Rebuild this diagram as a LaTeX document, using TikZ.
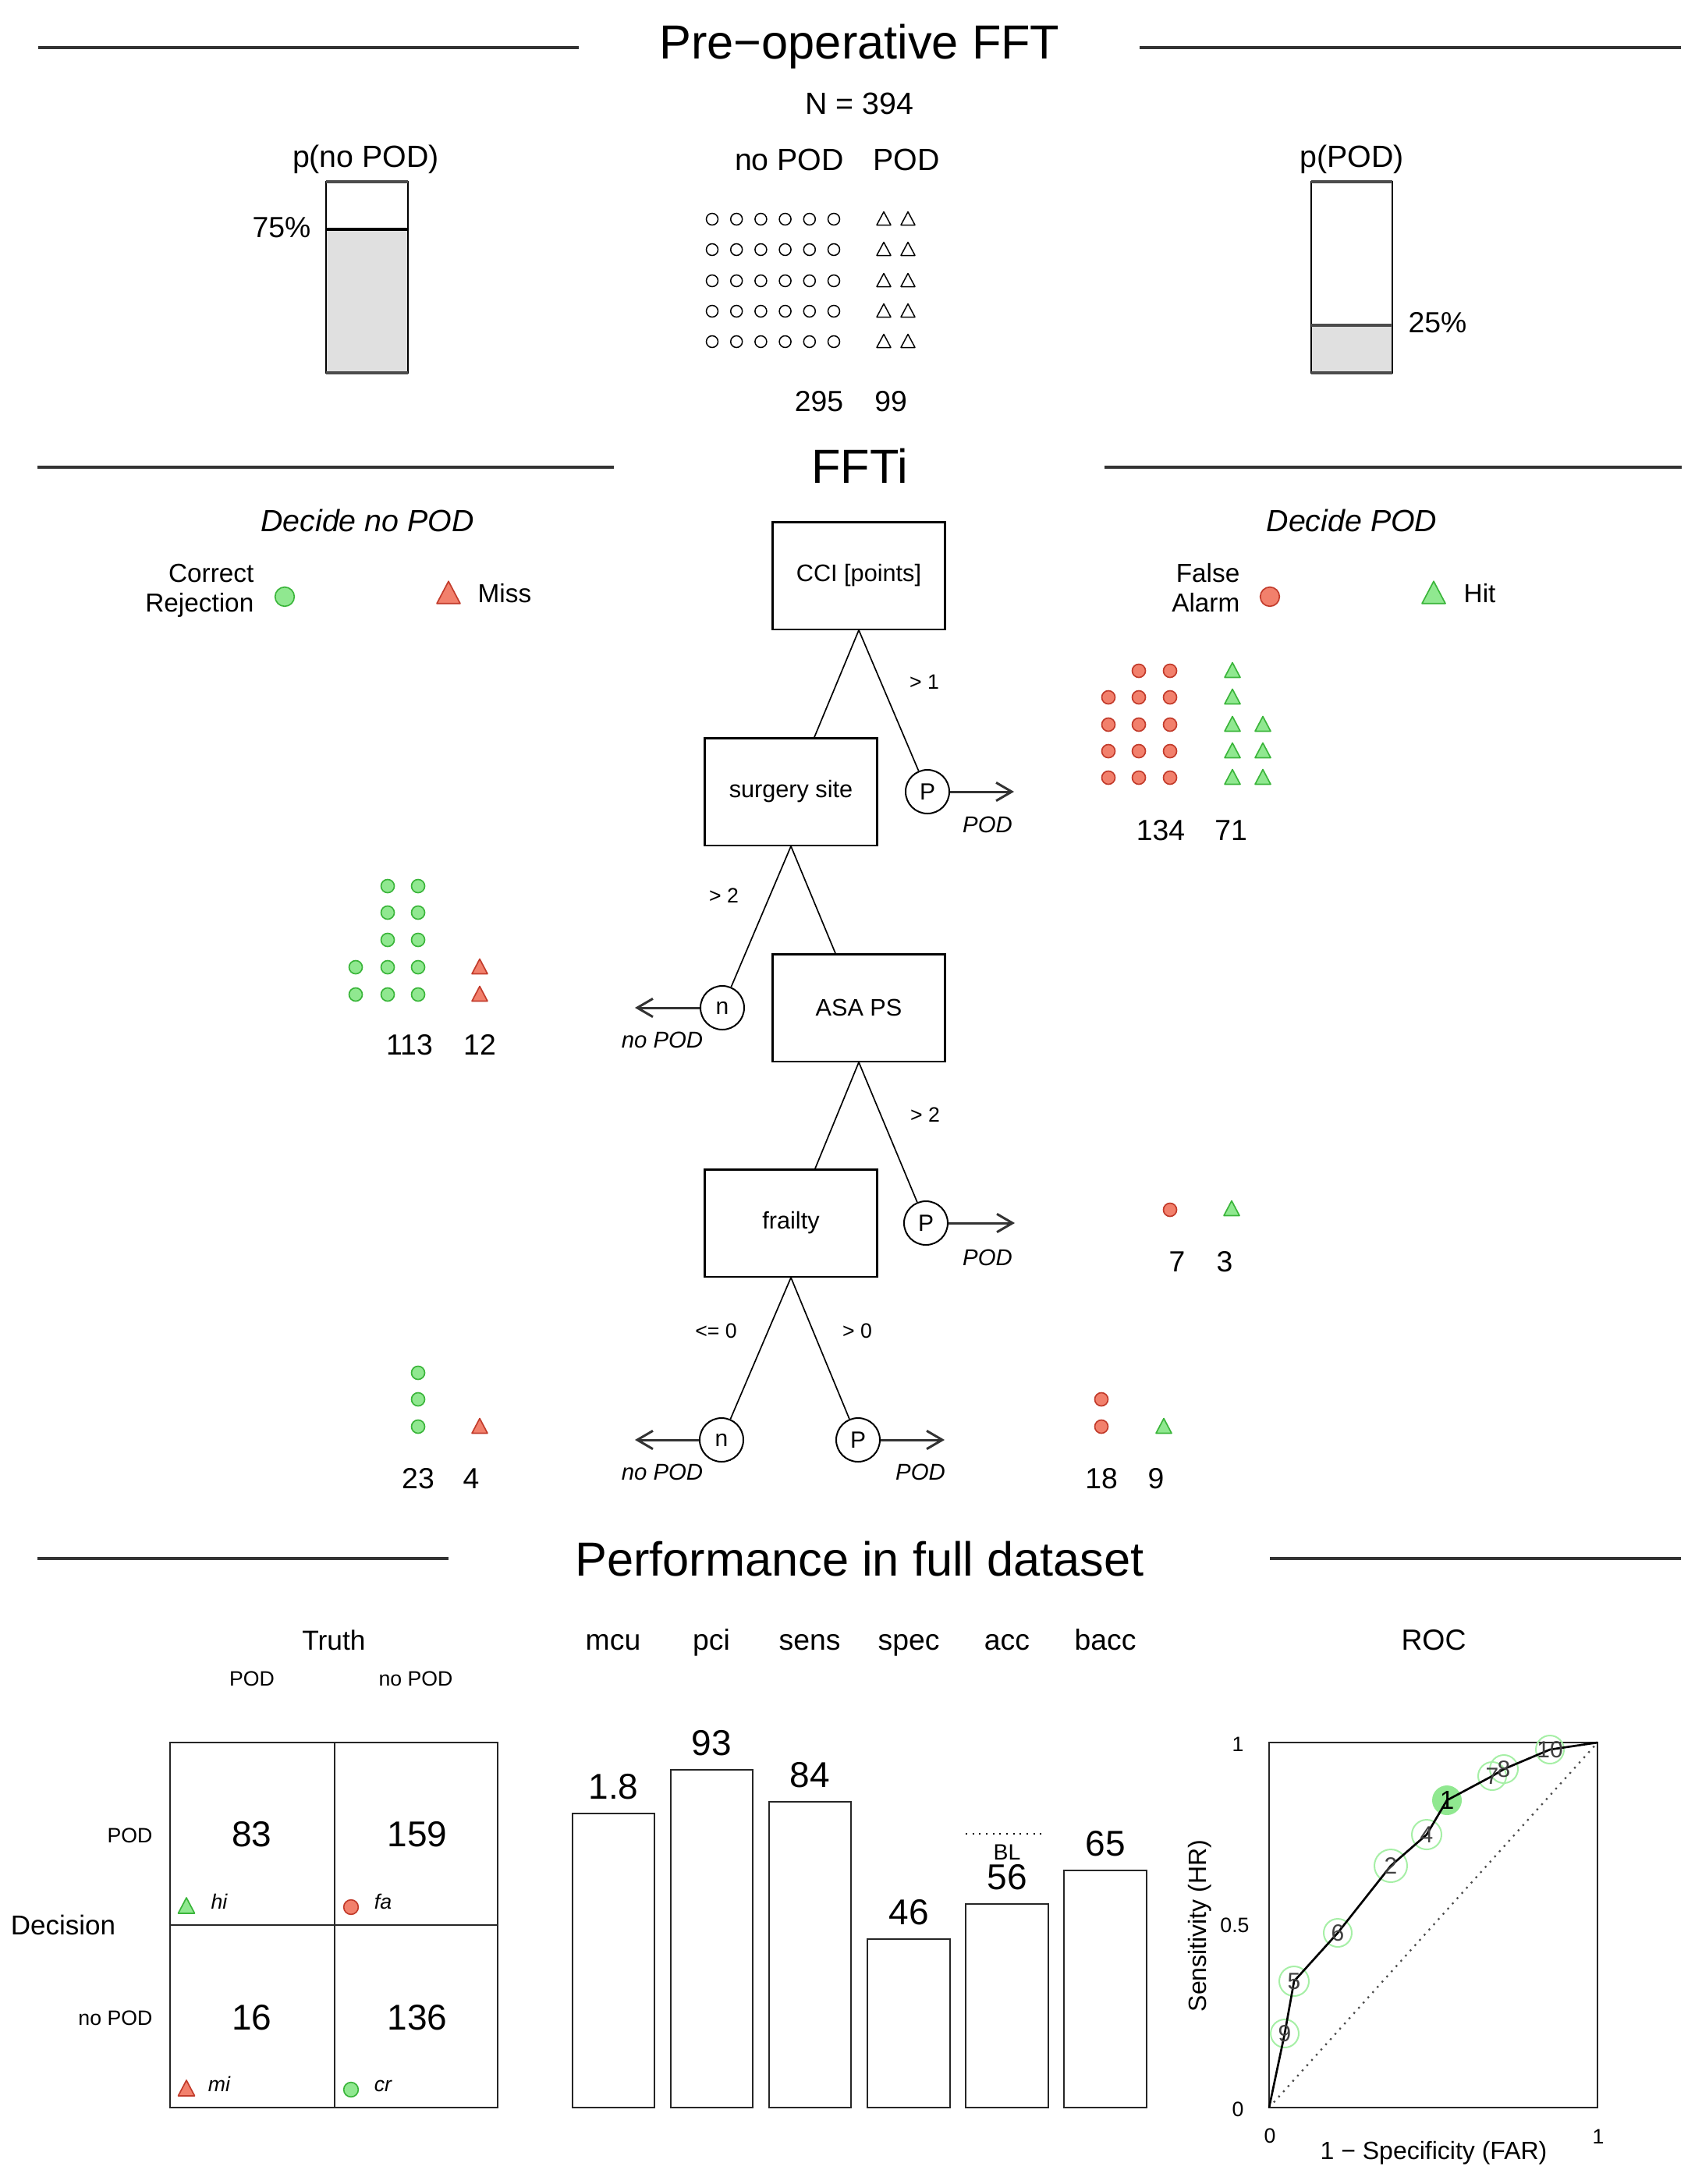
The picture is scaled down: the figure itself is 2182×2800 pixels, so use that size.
\documentclass[tikz,border=0pt]{standalone}
\usepackage{fontspec}
\setmainfont{Liberation Sans}
\usetikzlibrary{arrows.meta,calc}
\definecolor{redfill}{HTML}{F2806C}
\definecolor{redline}{HTML}{C23B2B}
\definecolor{greenfill}{HTML}{90E890}
\definecolor{greenline}{HTML}{3AB53A}
\definecolor{rocring}{HTML}{A6EFA6}
\definecolor{barfill}{HTML}{E0E0E0}
\definecolor{sepgray}{HTML}{333333}
\newcommand\myfs[1]{\fontsize{#1}{#1}\selectfont}
\tikzset{
  sepline/.style={line width=1pt, draw=sepgray},
  ttl/.style={font=\myfs{18.4}, anchor=base, inner sep=0pt},
  lab/.style={font=\myfs{10}, anchor=base, inner sep=0pt},
  toplab/.style={font=\myfs{11.8}, anchor=base, inner sep=0pt},
  num/.style={font=\myfs{11.2}, anchor=base, inner sep=0pt},
  bignum/.style={font=\myfs{13.8}, anchor=base, inner sep=0pt},
  small/.style={font=\myfs{8}, anchor=base, inner sep=0pt},
  exitlab/.style={font=\myfs{8.8}\itshape, anchor=base, inner sep=0pt},
  tbox/.style={draw, line width=0.7pt, minimum width=66.3pt, minimum height=41.2pt, inner sep=0pt, font=\myfs{9.2}},
  exitc/.style={draw, circle, line width=0.6pt, minimum size=16.8pt, inner sep=0pt, font=\myfs{9}},
  conn/.style={line width=0.5pt},
  exitarrow/.style={line width=0.9pt, draw=black!80, -{Straight Barb[length=6pt,width=7pt]}},
  framebox/.style={line width=0.8pt, draw=black!85},
  rocnum/.style={font=\myfs{9}, text=black!75, inner sep=0pt},
  oc/.pic={\draw[line width=0.45pt] (0,0) circle[radius=7.5];},
  ot/.pic={\draw[line width=0.45pt, line join=round] (-9,7.5) -- (9,7.5) -- (0,-9.5) -- cycle;},
  rc/.pic={\draw[draw=redline, fill=redfill, line width=0.5pt] (0,0) circle[radius=8.5];},
  gc/.pic={\draw[draw=greenline, fill=greenfill, line width=0.5pt] (0,0) circle[radius=8.5];},
  rt/.pic={\draw[draw=redline, fill=redfill, line width=0.5pt, line join=round] (-10,8.5) -- (10,8.5) -- (0,-10.5) -- cycle;},
  gt/.pic={\draw[draw=greenline, fill=greenfill, line width=0.5pt, line join=round] (-10,8.5) -- (10,8.5) -- (0,-10.5) -- cycle;}
}
\begin{document}
\begin{tikzpicture}[x=0.3pt,y=-0.3pt]
\useasboundingbox (0,0) rectangle (2182,2800);

% ---------------- Pre-operative FFT ----------------
\draw[sepline] (49,61) -- (742,61);
\draw[sepline] (1461,61) -- (2155,61);
\node[ttl] (t1) at (1102,76) {Pre−operative FFT};
\node[toplab] (nn) at (1102,146) {N = 394};
\node[toplab] (pnl) at (469,214) {p(no POD)};
\node[toplab] (ppl) at (1733,214) {p(POD)};
\node[toplab] (hnp) at (1012,218) {no POD};
\node[toplab] (hp) at (1162,218) {POD};

% left probability bar
\fill[barfill] (418,294) rectangle (523,478);
\draw[line width=0.5pt] (418,233) rectangle (523,478);
\draw[line width=1pt] (418,294) -- (523,294);
\draw[line width=1pt, draw=black!70] (418,233) -- (523,233);
\draw[line width=1pt, draw=black!70] (418,478) -- (523,478);
\node[num, anchor=base east] (p75) at (399,304) {75\%};
% right probability bar
\fill[barfill] (1681,417) rectangle (1785,478);
\draw[line width=0.5pt] (1681,233) rectangle (1785,478);
\draw[line width=1pt, draw=black!70] (1681,417) -- (1785,417);
\draw[line width=1pt, draw=black!70] (1681,233) -- (1785,233);
\draw[line width=1pt, draw=black!70] (1681,478) -- (1785,478);
\node[num, anchor=base west] (p25) at (1805,426) {25\%};

% icons
\foreach \y in {281,320,360,399,438} {
  \foreach \i in {0,...,5} { \path ({913+31.2*\i},\y) pic{oc}; }
  \path (1133,\y) pic{ot};
  \path (1164,\y) pic{ot};
}
\node[num] (c295) at (1050,527) {295};
\node[num] (c99) at (1142,527) {99};

% ---------------- FFTi ----------------
\draw[sepline] (48,599) -- (787,599);
\draw[sepline] (1416,599) -- (2156,599);
\node[ttl] (t2) at (1102,619) {FFTi};
\node[font=\myfs{11.8}\itshape, anchor=base, inner sep=0pt] (dnp) at (471,681) {Decide no POD};
\node[font=\myfs{11.8}\itshape, anchor=base, inner sep=0pt] (dp) at (1733,681) {Decide POD};

\node[lab, anchor=base east] (lc1) at (326,746) {Correct};
\node[lab, anchor=base east] (lc2) at (326,784) {Rejection};
\path (365,765) pic[scale=1.45]{gc};
\path (575,761) pic[scale=1.5]{rt};
\node[lab, anchor=base west] (lmiss) at (612,772) {Miss};
\node[lab, anchor=base east] (lf1) at (1590,746) {False};
\node[lab, anchor=base east] (lf2) at (1590,784) {Alarm};
\path (1628,765) pic[scale=1.45]{rc};
\path (1838,761) pic[scale=1.5]{gt};
\node[lab, anchor=base west] (lhit) at (1876,772) {Hit};

% tree nodes
\node[tbox] (cci) at (1101,738) {CCI [points]};
\node[tbox] (surg) at (1014,1015) {surgery site};
\node[tbox] (asa) at (1101,1292) {ASA PS};
\node[tbox] (frail) at (1014,1568) {frailty};
\node[exitc] (p1) at (1189,1015) {P};
\node[exitc] (n2) at (926,1292) {n};
\node[exitc] (p3) at (1187,1568) {P};
\node[exitc] (n4) at (925,1846) {n};
\node[exitc] (p4) at (1100,1846) {P};
\coordinate (p1e) at (1300,1015);
\coordinate (n2e) at (814,1292);
\coordinate (p3e) at (1301,1568);
\coordinate (n4e) at (814,1846);
\coordinate (p4e) at (1211,1846);

\draw[conn] (cci.south) -- ($(surg.north)+(30,0)$);
\draw[conn] (cci.south) -- (p1);
\draw[conn] (surg.south) -- (n2);
\draw[conn] (surg.south) -- ($(asa.north)+(-30,0)$);
\draw[conn] (asa.south) -- ($(frail.north)+(31,0)$);
\draw[conn] (asa.south) -- (p3);
\draw[conn] (frail.south) -- (n4);
\draw[conn] (frail.south) -- (p4);

\draw[exitarrow] (p1) -- (p1e);
\draw[exitarrow] (n2) -- (n2e);
\draw[exitarrow] (p3) -- (p3e);
\draw[exitarrow] (n4) -- (n4e);
\draw[exitarrow] (p4) -- (p4e);

\node[small] (b1) at (1185,883) {> 1};
\node[small] (b2) at (928,1157) {> 2};
\node[small] (b3) at (1186,1438) {> 2};
\node[small] (b4) at (918,1715) {<= 0};
\node[small] (b5) at (1099,1715) {> 0};

\node[exitlab] (e1) at (1266,1067) {POD};
\node[exitlab] (e2) at (849,1343) {no POD};
\node[exitlab] (e3) at (1266,1622) {POD};
\node[exitlab] (e4) at (849,1897) {no POD};
\node[exitlab] (e5) at (1180,1897) {POD};

% leaf icons: CCI > 1
\foreach \x in {1460,1500} { \path (\x,860) pic{rc}; }
\foreach \y in {894,929,963,997} { \foreach \x in {1421,1460,1500} { \path (\x,\y) pic{rc}; } }
\path (1580,860) pic{gt};
\path (1580,894) pic{gt};
\foreach \y in {929,963,997} { \foreach \x in {1580,1619} { \path (\x,\y) pic{gt}; } }
\node[num] (n134) at (1488,1077) {134};
\node[num] (n71) at (1578,1077) {71};

% surgery site -> no POD
\foreach \y in {1136,1170,1205} { \foreach \x in {497,536} { \path (\x,\y) pic{gc}; } }
\foreach \y in {1240,1275} { \foreach \x in {456,497,536} { \path (\x,\y) pic{gc}; } }
\path (615,1240) pic{rt};
\path (615,1275) pic{rt};
\node[num] (n113) at (525,1352) {113};
\node[num] (n12) at (615,1352) {12};

% ASA PS -> POD
\path (1500,1551) pic{rc};
\path (1579,1550) pic{gt};
\node[num] (n7) at (1509,1630) {7};
\node[num] (n3) at (1570,1630) {3};

% frailty <= 0 -> no POD
\foreach \y in {1760,1794,1829} { \path (536,\y) pic{gc}; }
\path (615,1829) pic{rt};
\node[num] (n23) at (536,1908) {23};
\node[num] (n4) at (604,1908) {4};

% frailty > 0 -> POD
\foreach \y in {1794,1829} { \path (1412,\y) pic{rc}; }
\path (1492,1829) pic{gt};
\node[num] (n18) at (1412,1908) {18};
\node[num] (n9) at (1482,1908) {9};

% ---------------- Performance ----------------
\draw[sepline] (48,1998) -- (575,1998);
\draw[sepline] (1628,1998) -- (2155,1998);
\node[ttl] (t3) at (1102,2020) {Performance in full dataset};

% confusion matrix
\node[num, font=\myfs{10.6}] (truth) at (428,2115) {Truth};
\node[small] (tpod) at (323,2161) {POD};
\node[small] (tnpod) at (533,2161) {no POD};
\node[small, anchor=base east] (dpod) at (196,2362) {POD};
\node[small, anchor=base east] (dnpod) at (196,2596) {no POD};
\node[font=\myfs{10.5}, anchor=base, inner sep=0pt] (dec) at (81,2480) {Decision};
\draw[framebox] (218,2234) rectangle (638,2702);
\draw[framebox] (429,2234) -- (429,2702);
\draw[framebox] (218,2468) -- (638,2468);
\node[bignum] (m83) at (323,2367) {83};
\node[bignum] (m159) at (535,2367) {159};
\node[bignum] (m16) at (323,2602) {16};
\node[bignum] (m136) at (535,2602) {136};
\path (239,2444) pic[scale=1.05]{gt};
\path (450,2445) pic[scale=1.1]{rc};
\path (239,2678) pic[scale=1.05]{rt};
\path (450,2679) pic[scale=1.1]{gc};
\node[small, font=\myfs{8}\itshape] (lhi) at (281,2447) {hi};
\node[small, font=\myfs{8}\itshape] (lfa) at (491,2447) {fa};
\node[small, font=\myfs{8}\itshape] (lmi) at (281,2681) {mi};
\node[small, font=\myfs{8}\itshape] (lcr) at (491,2681) {cr};

% bars
\foreach \lab/\x in {mcu/786, pci/912, sens/1038, spec/1165, acc/1291, bacc/1417} {
  \node[num] at (\x,2115) {\lab};
}
\foreach \xa/\xb/\top/\val in {734/839/2325/1.8, 860/965/2269/93, 986/1091/2310/84, 1112/1218/2486/46, 1238/1344/2441/56, 1364/1470/2398/65} {
  \draw[framebox] (\xa,2702) rectangle (\xb,\top);
  \node[bignum] at ({(\xa+\xb)/2},{\top-19}) {\val};
}
\draw[dotted, line width=0.6pt] (1238,2351) -- (1340,2351);
\node[font=\myfs{8.5}, anchor=base, inner sep=0pt] (bl) at (1291,2384) {BL};

% ROC
\node[num] (roct) at (1838,2115) {ROC};
\draw[framebox] (1627,2234) rectangle (2048,2702);
\draw[dotted, line width=0.7pt, draw=black!70] (1627,2702) -- (2048,2234);
\foreach \n/\x/\y/\r in {9/1647/2607/18, 5/1659/2540/19, 6/1715/2478/18, 2/1783/2392/21, 4/1829/2352/19, 7/1913/2277/18, 8/1928/2268/18, 10/1987/2243/18} {
  \draw[rocring, line width=0.6pt] (\x,\y) circle[radius=\r];
}
\fill[greenfill] (1855,2308) circle[radius=19];
\draw[line width=0.8pt] (1627,2702) -- (1647,2607) -- (1659,2540) -- (1715,2478) -- (1783,2392) -- (1829,2352) -- (1855,2308) -- (1913,2277) -- (1928,2268) -- (1987,2243) -- (2048,2234);
\foreach \n/\x/\y in {9/1647/2607, 5/1659/2540, 6/1715/2478, 2/1783/2392, 4/1829/2352, 7/1913/2277, 8/1928/2268, 10/1987/2243} {
  \node[rocnum] at (\x,\y) {\n};
}
\node[rocnum, text=black, font=\myfs{10}] (r1) at (1855,2308) {1};
\node[small] (y1) at (1587,2245) {1};
\node[small] (y05) at (1583,2477) {0.5};
\node[small] (y0) at (1587,2713) {0};
\node[small] (x0) at (1628,2747) {0};
\node[small] (x1) at (2049,2748) {1};
\node[font=\myfs{9.6}, anchor=base, inner sep=0pt] (xl) at (1838,2768) {1 − Specificity (FAR)};
\node[font=\myfs{9.6}, rotate=90, inner sep=0pt] (yl) at (1538,2469) {Sensitivity (HR)};
\end{tikzpicture}
\end{document}
